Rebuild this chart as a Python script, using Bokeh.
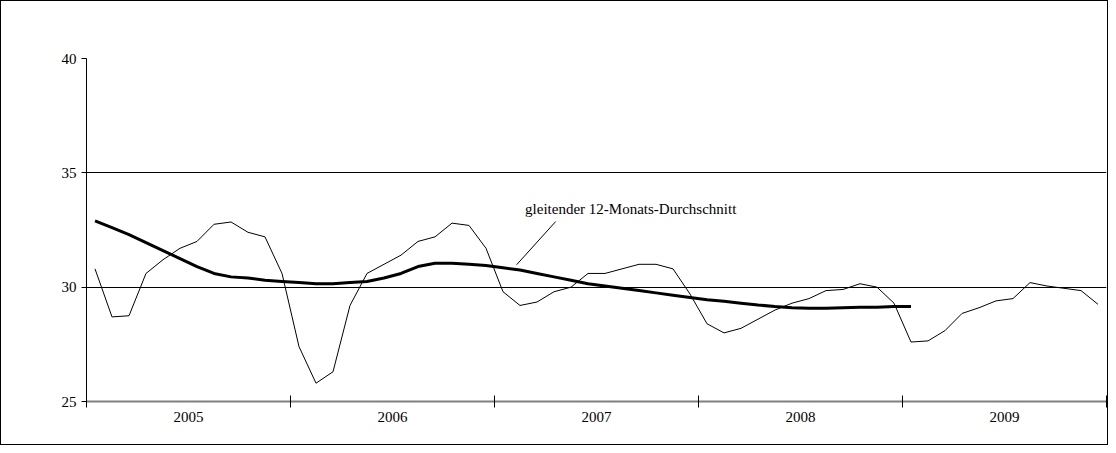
from bokeh.plotting import figure
from bokeh.embed import file_html
from bokeh.resources import INLINE
from bokeh.models import FixedTicker, Range1d, Label

years = ["2005", "2006", "2007", "2008", "2009"]

monthly = [
    30.8, 28.7, 28.75, 30.6, 31.2, 31.7, 32.0, 32.75, 32.85, 32.4, 32.2, 30.6,
    27.4, 25.8, 26.3, 29.2, 30.6, 31.0, 31.4, 32.0, 32.2, 32.8, 32.7, 31.7,
    29.8, 29.2, 29.35, 29.8, 30.0, 30.6, 30.6, 30.8, 31.0, 31.0, 30.8, 29.7,
    28.4, 28.0, 28.2, 28.6, 29.0, 29.3, 29.5, 29.85, 29.9, 30.15, 30.0, 29.3,
    27.6, 27.65, 28.1, 28.85, 29.1, 29.4, 29.5, 30.2, 30.05, 29.95, 29.85, 29.25,
]

moving_avg = [
    32.9, 32.6, 32.3, 31.95, 31.6, 31.25, 30.9, 30.6, 30.45, 30.4, 30.3, 30.25,
    30.2, 30.15, 30.15, 30.2, 30.25, 30.4, 30.6, 30.9, 31.05, 31.05, 31.0, 30.95,
    30.85, 30.75, 30.6, 30.45, 30.3, 30.15, 30.05, 29.95, 29.85, 29.75, 29.65, 29.55,
    29.45, 29.38, 29.3, 29.22, 29.15, 29.1, 29.08, 29.08, 29.1, 29.12, 29.12, 29.15,
    29.15,
]

label_text = "gleitender 12-Monats-Durchschnitt"

FONT = "Liberation Serif"

p = figure(width=1108, height=445, output_backend="svg", toolbar_location=None,
           x_range=Range1d(0, 60), y_range=Range1d(25, 40),
           min_border_left=85, min_border_right=3, min_border_top=57, min_border_bottom=45,
           background_fill_color="white", outline_line_color=None,
           styles={"border": "1px solid black"})

p.xgrid.grid_line_color = None
p.ygrid.grid_line_color = "black"
p.ygrid.grid_line_width = 1

p.yaxis.ticker = FixedTicker(ticks=[25, 30, 35, 40])
p.yaxis.axis_line_color = "black"
p.yaxis.major_tick_line_color = "black"
p.yaxis.major_tick_out = 5
p.yaxis.major_tick_in = 0
p.yaxis.minor_tick_line_color = None
p.yaxis.major_label_text_font = FONT
p.yaxis.major_label_text_font_size = "15px"
p.yaxis.major_label_text_color = "black"

p.xaxis.ticker = FixedTicker(ticks=[6 + 12 * i for i in range(5)],
                             minor_ticks=[12 * i for i in range(6)])
p.xaxis.major_label_overrides = {6 + 12 * i: y for i, y in enumerate(years)}
p.xaxis.major_tick_line_color = None
p.xaxis.minor_tick_line_color = "black"
p.xaxis.minor_tick_in = 6
p.xaxis.minor_tick_out = 6
p.xaxis.axis_line_color = "#808080"
p.xaxis.axis_line_width = 2
p.xaxis.major_label_standoff = 4
p.xaxis.major_label_text_font = FONT
p.xaxis.major_label_text_font_size = "15px"
p.xaxis.major_label_text_color = "black"

xs = [i + 0.5 for i in range(len(monthly))]
p.line(xs, monthly, line_color="black", line_width=1)
xa = [i + 0.5 for i in range(len(moving_avg))]
p.line(xa, moving_avg, line_color="black", line_width=3)

p.segment(x0=[25.3], y0=[30.98], x1=[27.6], y1=[32.87], line_color="black", line_width=1)
p.add_layout(Label(x=25.8, y=33.4, text=label_text, text_font=FONT, text_font_size="15px",
                   text_baseline="middle", text_color="black"))

open("out.html", "w").write(file_html(p, INLINE))
